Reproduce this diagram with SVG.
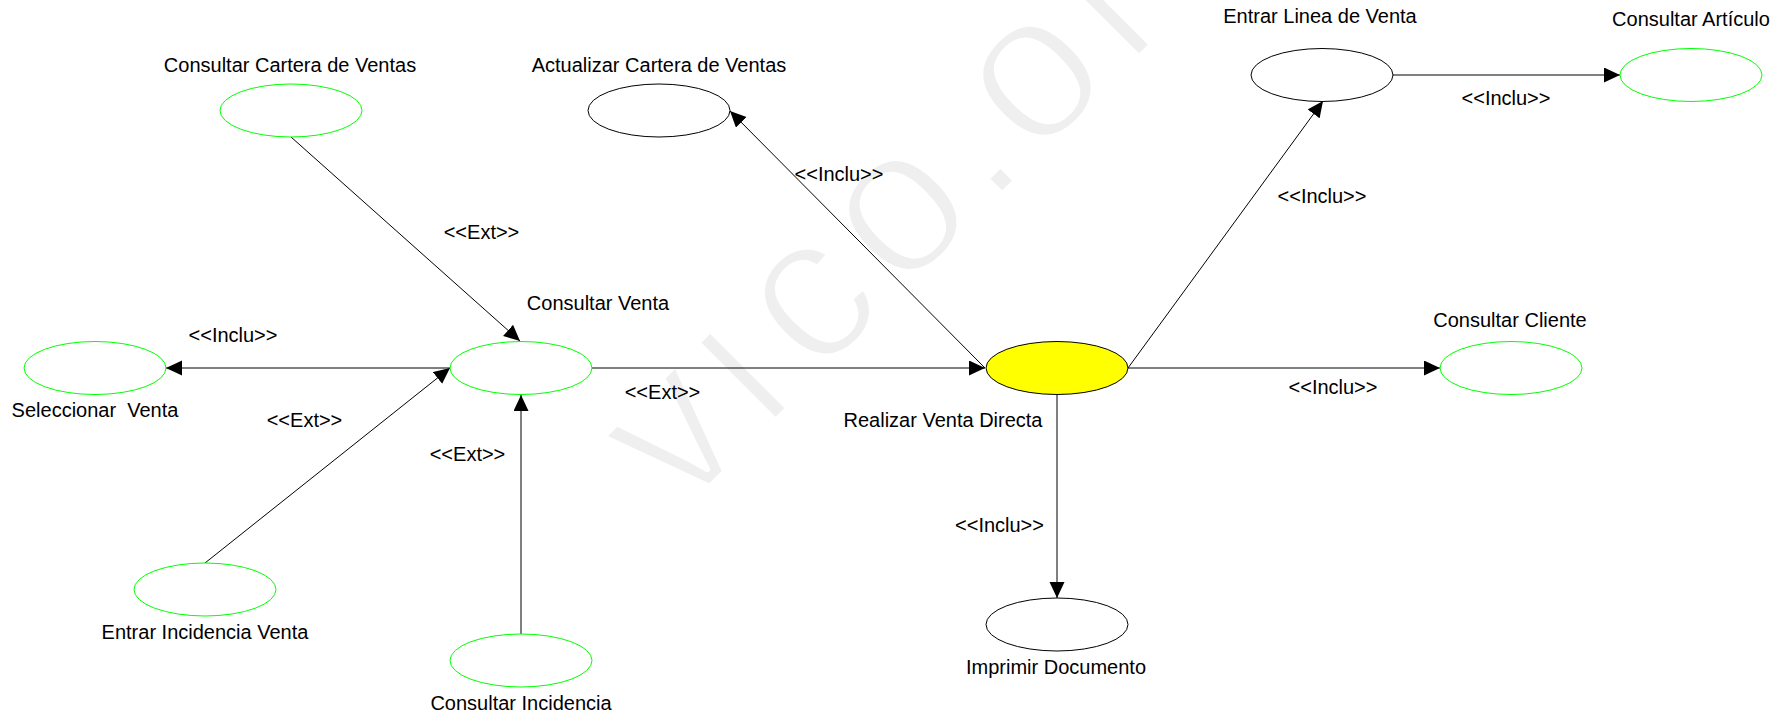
<svg xmlns="http://www.w3.org/2000/svg" width="1783" height="718" viewBox="0 0 1783 718">
<defs>
<style>
.uc{fill:#ffffff;stroke:#00ff00;stroke-width:1}
.ub{fill:#ffffff;stroke:#000000;stroke-width:1}
.um{fill:#ffff00;stroke:#000000;stroke-width:1}
.lbl{font-family:"Liberation Sans",Arial,sans-serif;font-size:20px;fill:#000000;text-anchor:middle;white-space:pre}
.cn{stroke:#000000;stroke-width:1;fill:none;marker-end:url(#ah)}
.wm{font-family:"Liberation Sans",Arial,sans-serif;font-size:210px;fill:#efefef;stroke:#ffffff;stroke-width:6;stroke-linejoin:round;text-anchor:middle}
</style>
<marker id="ah" markerUnits="userSpaceOnUse" markerWidth="18" markerHeight="16" refX="16" refY="7.5" orient="auto">
<path d="M0,0 L16,7.5 L0,15 z" fill="#000000"/>
</marker>
</defs>
<rect width="1783" height="718" fill="#ffffff"/>
<g id="watermark" transform="translate(679,440) rotate(-45)">
<text class="wm" x="0" y="55">v</text>
<text class="wm" x="91" y="55">ı</text>
<text class="wm" x="192" y="55">c</text>
<text class="wm" x="317" y="55">o</text>
<text class="wm" x="412" y="55">.</text>
<text class="wm" x="507" y="55">o</text>
<text class="wm" x="616" y="55">r</text>
</g>
<g id="connectors">
<line class="cn" x1="291" y1="137" x2="520" y2="341"/>
<line class="cn" x1="450" y1="368" x2="166" y2="368"/>
<line class="cn" x1="205" y1="563" x2="450" y2="368"/>
<line class="cn" x1="521" y1="634" x2="521" y2="395"/>
<line class="cn" x1="592" y1="368" x2="985" y2="368"/>
<line class="cn" x1="985" y1="368" x2="730" y2="111"/>
<line class="cn" x1="1128" y1="368" x2="1323" y2="101"/>
<line class="cn" x1="1393" y1="75" x2="1620" y2="75"/>
<line class="cn" x1="1128" y1="368" x2="1440" y2="368"/>
<line class="cn" x1="1057" y1="395" x2="1057" y2="598"/>
<text class="lbl" x="481.5" y="239">&lt;&lt;Ext&gt;&gt;</text>
<text class="lbl" x="233" y="342">&lt;&lt;Inclu&gt;&gt;</text>
<text class="lbl" x="304.5" y="427">&lt;&lt;Ext&gt;&gt;</text>
<text class="lbl" x="467.5" y="461">&lt;&lt;Ext&gt;&gt;</text>
<text class="lbl" x="662.5" y="399">&lt;&lt;Ext&gt;&gt;</text>
<text class="lbl" x="839" y="181">&lt;&lt;Inclu&gt;&gt;</text>
<text class="lbl" x="1322" y="203">&lt;&lt;Inclu&gt;&gt;</text>
<text class="lbl" x="1506" y="105">&lt;&lt;Inclu&gt;&gt;</text>
<text class="lbl" x="1333" y="394">&lt;&lt;Inclu&gt;&gt;</text>
<text class="lbl" x="999.5" y="532">&lt;&lt;Inclu&gt;&gt;</text>
</g>
<g id="consultar-cartera">
<ellipse class="uc" cx="291" cy="110.5" rx="71" ry="26.5"/>
<text class="lbl" x="290" y="72">Consultar Cartera de Ventas</text>
</g>
<g id="actualizar-cartera">
<ellipse class="ub" cx="659" cy="110.5" rx="71" ry="26.5"/>
<text class="lbl" x="659" y="72">Actualizar Cartera de Ventas</text>
</g>
<g id="consultar-venta">
<ellipse class="uc" cx="521" cy="368" rx="71" ry="26.5"/>
<text class="lbl" x="598" y="310">Consultar Venta</text>
</g>
<g id="seleccionar-venta">
<ellipse class="uc" cx="95" cy="368" rx="71" ry="26.5"/>
<text class="lbl" x="95" y="417">Seleccionar  Venta</text>
</g>
<g id="entrar-incidencia">
<ellipse class="uc" cx="205" cy="589.5" rx="71" ry="26.5"/>
<text class="lbl" x="205" y="639">Entrar Incidencia Venta</text>
</g>
<g id="consultar-incidencia">
<ellipse class="uc" cx="521" cy="660.5" rx="71" ry="26.5"/>
<text class="lbl" x="521" y="710">Consultar Incidencia</text>
</g>
<g id="realizar-venta">
<ellipse class="um" cx="1057" cy="368" rx="71" ry="26.5"/>
<text class="lbl" x="943" y="427">Realizar Venta Directa</text>
</g>
<g id="imprimir-documento">
<ellipse class="ub" cx="1057" cy="624.5" rx="71" ry="26.5"/>
<text class="lbl" x="1056" y="674">Imprimir Documento</text>
</g>
<g id="entrar-linea">
<ellipse class="ub" cx="1322" cy="75" rx="71" ry="26.5"/>
<text class="lbl" x="1320" y="23">Entrar Linea de Venta</text>
</g>
<g id="consultar-articulo">
<ellipse class="uc" cx="1691" cy="75" rx="71" ry="26.5"/>
<text class="lbl" x="1691" y="26">Consultar Artículo</text>
</g>
<g id="consultar-cliente">
<ellipse class="uc" cx="1511" cy="368" rx="71" ry="26.5"/>
<text class="lbl" x="1510" y="327">Consultar Cliente</text>
</g>
</svg>
